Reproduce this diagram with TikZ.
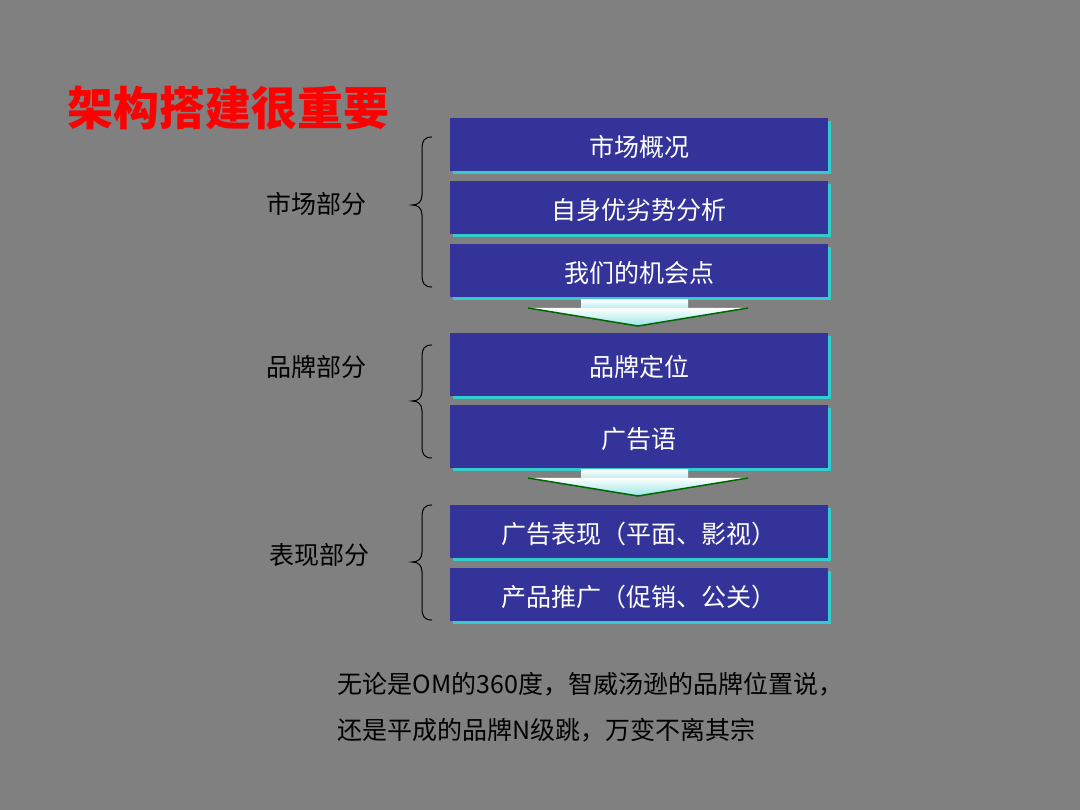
\documentclass[tikz,border=0pt]{standalone}
\usepackage{fontspec}
\newfontfamily\cjk{Noto Sans CJK SC}
\begin{document}
\begin{tikzpicture}[x=1pt,y=-1pt,
  bx/.style={fill=boxblue,draw=none,text=white,font=\cjk\fontsize{25}{28}\selectfont,minimum width=378pt,inner sep=0pt},
  lbl/.style={font=\cjk\fontsize{25}{28}\selectfont,text=black},
  br/.style={draw=black,line width=1pt}]
\definecolor{boxblue}{HTML}{333399}
\definecolor{shad}{HTML}{33CCCC}
\definecolor{bg}{HTML}{808080}
\fill[bg] (0,0) rectangle (1080,810);
\useasboundingbox (0,0) rectangle (1080,810);
\node[anchor=west,text=red,font=\cjk\bfseries\fontsize{46}{50}\selectfont] (title) at (64,108) {架构搭建很重要};
\foreach \n/\t/\b/\s in {b1/118/171/市场概况,b2/181/234/自身优劣势分析,b3/244/297/我们的机会点,b4/333/396/品牌定位,b5/405/468/广告语,b6/505/558/广告表现（平面、影视）,b7/568/621/产品推广（促销、公关）}{
  \fill[shad] (453,\t+3) rectangle (831,\b+3);
  \node[bx,minimum height={\b-\t},anchor=north west,text depth=0pt] (\n) at (450,\t) {\raisebox{-3pt}{\s}};
}
\foreach \a/\y in {1/300,2/470}{
  \shade[top color=white,bottom color=shad!40] (581,\y) rectangle (688,\y+9);
  \shade[top color=white,bottom color=shad!50] (528,\y+8) -- (748,\y+8) -- (638,\y+26) -- cycle;
  \draw[green!40!black,line width=1.5pt] (528,\y+8) -- (638,\y+26) -- (748,\y+8);
  \coordinate (arr\a) at (638,\y+26);
}
\foreach \t/\m/\b in {137/205/287,345/401/458,505/562/620}{
  \draw[br] (432,\t) .. controls (424,\t) and (422,\t+4) .. (422,\t+12) -- (422,\m-10) .. controls (422,\m-3) and (418,\m) .. (412,\m)
    .. controls (418,\m) and (422,\m+3) .. (422,\m+10) -- (422,\b-12) .. controls (422,\b-4) and (424,\b) .. (432,\b);
}
\node[lbl] (l1) at (316,204) {市场部分};
\node[lbl] (l2) at (316,367) {品牌部分};
\node[lbl] (l3) at (319,555) {表现部分};
\node[lbl,anchor=west] (t1) at (334,684) {无论是OM的360度，智威汤逊的品牌位置说，};
\node[lbl,anchor=west] (t2) at (334,730) {还是平成的品牌N级跳，万变不离其宗};
\end{tikzpicture}
\end{document}
